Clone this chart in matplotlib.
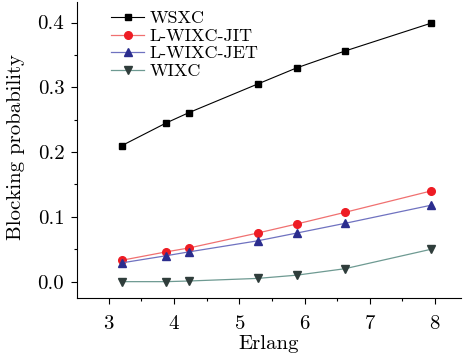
import numpy as np
import matplotlib
matplotlib.use("Agg")
import matplotlib.pyplot as plt
from matplotlib.ticker import MultipleLocator

plt.rcParams['font.family'] = ['cmr10', 'DejaVu Serif']
plt.rcParams['axes.formatter.use_mathtext'] = True
plt.rcParams['mathtext.fontset'] = 'cm'

# traffic load (Erlang)
erlang = [3.2, 3.88, 4.23, 5.28, 5.88, 6.62, 7.94]

# blocking probability for each scheme
wsxc = [0.210, 0.245, 0.261, 0.305, 0.330, 0.356, 0.399]
l_wixc_jit = [0.033, 0.046, 0.052, 0.075, 0.089, 0.107, 0.140]
l_wixc_jet = [0.029, 0.040, 0.046, 0.063, 0.075, 0.090, 0.118]
wixc = [0.0, 0.0, 0.001, 0.005, 0.010, 0.020, 0.050]

fig = plt.figure(figsize=(4.63, 3.55), dpi=100)
ax = fig.add_axes([0.166, 0.161, 0.83, 0.834])

ax.plot(erlang, wsxc, '-s', color='black', lw=0.8, ms=5, mfc='black', mec='black', label='WSXC')
ax.plot(erlang, l_wixc_jit, '-o', color='#f07070', lw=0.9, ms=5.5, mfc='#ee1c24', mec='#ee1c24', label='L-WIXC-JIT')
ax.plot(erlang, l_wixc_jet, '-^', color='#6f72c0', lw=0.9, ms=6, mfc='#2b2d8e', mec='#2b2d8e', label='L-WIXC-JET')
ax.plot(erlang, wixc, '-v', color='#6e9a92', lw=0.9, ms=6, mfc='#2f3d3b', mec='#2f3d3b', label='WIXC')

ax.set_xlim(2.51, 8.4)
ax.set_ylim(-0.025, 0.432)
ax.xaxis.set_major_locator(MultipleLocator(1))
ax.xaxis.set_minor_locator(MultipleLocator(0.5))
ax.yaxis.set_major_locator(MultipleLocator(0.1))
ax.yaxis.set_minor_locator(MultipleLocator(0.05))
ax.yaxis.set_major_formatter(plt.FuncFormatter(lambda v, p: '%.1f' % v))

for s in ['top', 'right']:
    ax.spines[s].set_visible(False)
ax.tick_params(which='both', direction='out', labelsize=15, width=0.8, pad=5)
ax.tick_params(axis='x', which='both', pad=8)
ax.tick_params(which='major', length=4)
ax.tick_params(which='minor', length=2.5)

ax.set_xlabel('Erlang', fontsize=15, labelpad=2)
ax.set_ylabel('Blocking probability', fontsize=15)
ax.yaxis.set_label_coords(-0.135, 0.51)

ax.legend(loc='upper left', bbox_to_anchor=(0.057, 1.012), frameon=False, fontsize=13,
          handlelength=1.8, labelspacing=0.1, handletextpad=0.3, borderpad=0.2)

fig.savefig('out.png', dpi=100)
